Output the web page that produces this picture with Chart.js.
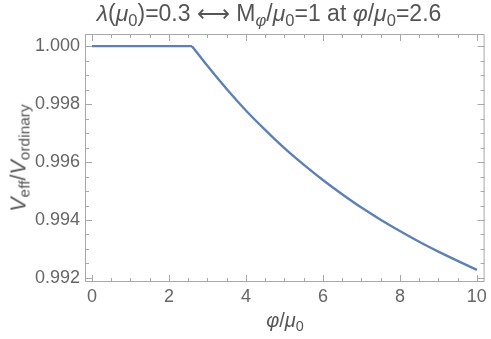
<!DOCTYPE html>
<html>
<head>
<meta charset="utf-8">
<script src="https://cdn.jsdelivr.net/npm/chart.js@4/dist/chart.umd.min.js"></script>
<style>
  body { margin:0; background:#fff; }
  #wrap { position:relative; width:491px; height:339px; font-family:"Liberation Sans", Arial, sans-serif; color:#555; }
  canvas { position:absolute; left:0; top:0; }
  .lbl { position:absolute; white-space:nowrap; }
  .lbl i { font-style:italic; }
  .lbl sub { font-size:72%; vertical-align:-0.28em; line-height:0; }
  #title { left:-16px; width:570px; text-align:center; top:0px; font-size:23px; }
  #xlab { left:0; width:570px; text-align:center; top:309px; font-size:20px; }
  #ylab { left:19px; top:158px; font-size:21.5px; transform:translate(-50%,-50%) rotate(-90deg); }
</style>
</head>
<body>
<div id="wrap">
  <canvas id="c" width="491" height="339"></canvas>
  <div class="lbl" id="title"><i>λ</i>(<i>μ</i><sub>0</sub>)=0.3 ⟷ M<sub><i>φ</i></sub>/<i>μ</i><sub>0</sub>=1 at <i>φ</i>/<i>μ</i><sub>0</sub>=2.6</div>
  <div class="lbl" id="xlab"><i>φ</i>/<i>μ</i><sub>0</sub></div>
  <div class="lbl" id="ylab"><i>V</i><sub>eff</sub>/<i>V</i><sub>ordinary</sub></div>
</div>
<script>
// flat part, up to the kink at phi/mu0 = 2.6
const phiFlat = [0, 2.6];
const ratioFlat = [1.0, 1.0];
// falling part after the kink
const phiFall = [2.6, 3.0, 3.5, 4.0, 4.5, 5.0, 5.5, 6.0, 6.5, 7.0, 7.5, 8.0, 8.5, 9.0, 9.5, 10.0];
const ratioFall = [1.0, 0.99932, 0.99852, 0.99778, 0.99711, 0.99648, 0.99591, 0.99538, 0.99489,
                   0.99443, 0.99401, 0.99362, 0.99325, 0.99291, 0.99259, 0.99228];
const xTicks = [0, 2, 4, 6, 8, 10];
const yTicks = [0.992, 0.994, 0.996, 0.998, 1.000];

const frameColor = '#a8a8a8';

// inward ticks and the frame, Mathematica style
const framePlugin = {
  id: 'frame',
  afterDraw(chart) {
    const ctx = chart.ctx, a = chart.chartArea;
    const xs = chart.scales.x, ys = chart.scales.y;
    ctx.save();
    ctx.strokeStyle = frameColor;
    ctx.lineWidth = 1;
    ctx.strokeRect(a.left + 0.5, a.top + 0.5, a.right - a.left - 1, a.bottom - a.top - 1);
    ctx.beginPath();
    for (let i = 0; i <= 20; i++) {
      const v = i * 0.5;
      const px = Math.round(xs.getPixelForValue(v)) + 0.5;
      const len = (i % 4 === 0) ? 7 : 4;
      ctx.moveTo(px, a.bottom); ctx.lineTo(px, a.bottom - len);
      ctx.moveTo(px, a.top); ctx.lineTo(px, a.top + len);
    }
    for (let i = 0; i <= 16; i++) {
      const v = 0.992 + i * 0.0005;
      const py = Math.round(ys.getPixelForValue(v)) + 0.5;
      const len = (i % 4 === 0) ? 7 : 4;
      ctx.moveTo(a.left, py); ctx.lineTo(a.left + len, py);
      ctx.moveTo(a.right, py); ctx.lineTo(a.right - len, py);
    }
    ctx.stroke();
    ctx.restore();
  }
};

const lineStyle = { borderColor: '#5e81b5', borderWidth: 2.4, pointRadius: 0, fill: false };

new Chart(document.getElementById('c'), {
  type: 'line',
  data: {
    datasets: [
      Object.assign({ data: phiFlat.map((x, i) => ({x: x, y: ratioFlat[i]})), tension: 0 }, lineStyle),
      Object.assign({ data: phiFall.map((x, i) => ({x: x, y: ratioFall[i]})), cubicInterpolationMode: 'monotone' }, lineStyle)
    ]
  },
  options: {
    responsive: false,
    animation: false,
    layout: { padding: { top: 34, right: 6, left: 0, bottom: 0 } },
    plugins: { legend: { display: false }, tooltip: { enabled: false } },
    scales: {
      x: {
        type: 'linear',
        min: -0.18, max: 10.2,
        grid: { display: false, drawTicks: false },
        border: { display: false },
        afterBuildTicks: s => { s.ticks = xTicks.map(v => ({value: v})); },
        afterFit: s => { s.height = 57; },
        ticks: { color: '#666', font: { family: 'Liberation Sans', size: 18 }, padding: 4, maxRotation: 0,
                 callback: v => String(v) }
      },
      y: {
        type: 'linear',
        min: 0.99186, max: 1.00042,
        grid: { display: false, drawTicks: false },
        border: { display: false },
        afterBuildTicks: s => { s.ticks = yTicks.map(v => ({value: v})); },
        afterFit: s => { s.width = 85; },
        ticks: { color: '#666', font: { family: 'Liberation Sans', size: 18 }, padding: 5,
                 callback: v => v.toFixed(3) }
      }
    }
  },
  plugins: [framePlugin]
});
</script>
</body>
</html>
